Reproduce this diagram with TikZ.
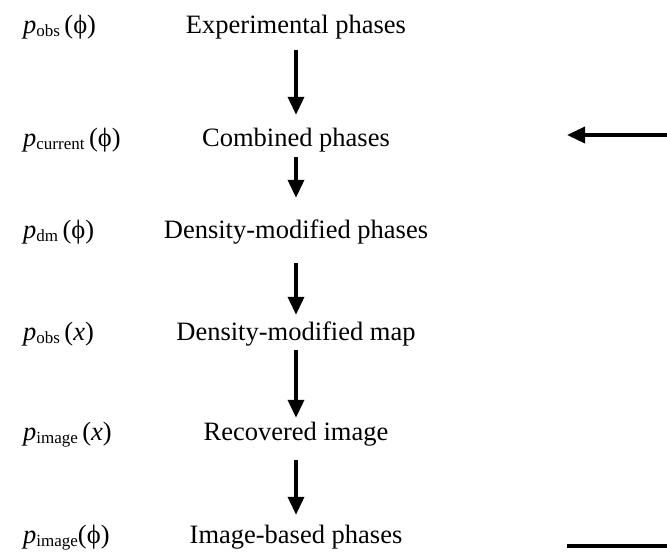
\documentclass[tikz,border=0pt]{standalone}
\usepackage{fontspec}
\setmainfont{Liberation Serif}
\usetikzlibrary{arrows.meta}

\newcommand{\pvar}[1]{\textit{p}\raisebox{-3pt}{\fontsize{17}{17}\selectfont #1}}

\begin{document}
\begin{tikzpicture}[%
    x=1pt, y=-1pt,
    >={Triangle[length=18pt,width=16pt]},
    font=\fontsize{26.5}{30}\selectfont,
    phase/.style={inner sep=0pt, anchor=base, text height=18pt, text depth=6pt},
    dist/.style={inner sep=0pt, anchor=base west},
    flow/.style={->, line width=3.5pt}
  ]
  \useasboundingbox (0,0) rectangle (667,554);

  % phase sets
  \node[phase] (exp)   at (296,33)  {Experimental phases};
  \node[phase] (comb)  at (296,146) {Combined phases};
  \node[phase] (dmph)  at (296,238) {Density-modified phases};
  \node[phase] (dmmap) at (296,340) {Density-modified map};
  \node[phase] (rec)   at (296,440) {Recovered image};
  \node[phase] (img)   at (296,543) {Image-based phases};

  % probability labels
  \node[dist] (pobs)  at (23,33)  {\pvar{obs}\,(ϕ)};
  \node[dist] (pcur)  at (23,146) {\pvar{current}\,(ϕ)};
  \node[dist] (pdm)   at (23,238) {\pvar{dm}\,(ϕ)};
  \node[dist] (pobsx) at (23,340) {\pvar{obs}\,(\textit{x})};
  \node[dist] (pimx)  at (23,440) {\pvar{image}\,(\textit{x})};
  \node[dist] (pimph) at (23,543) {\pvar{image}(ϕ)};

  % loop ends at the right edge
  \coordinate (fbin)  at (667,135);
  \coordinate (fbtip) at (567,135);
  \coordinate (fbout) at (567,546);
  \coordinate (fbend) at (667,546);

  \path[flow]
    (exp)   edge [shorten <=11pt, shorten >=13pt] (comb)
    (comb)  edge [shorten <=5pt,  shorten >=22pt] (dmph)
    (dmph)  edge [shorten <=19pt, shorten >=7pt]  (dmmap)
    (dmmap) edge [shorten <=4pt,  shorten >=4pt]  (rec)
    (rec)   edge [shorten <=14pt, shorten >=10pt] (img)
    (fbin)  edge (fbtip);
  \draw[line width=3.5pt] (fbout) -- (fbend);
\end{tikzpicture}
\end{document}
